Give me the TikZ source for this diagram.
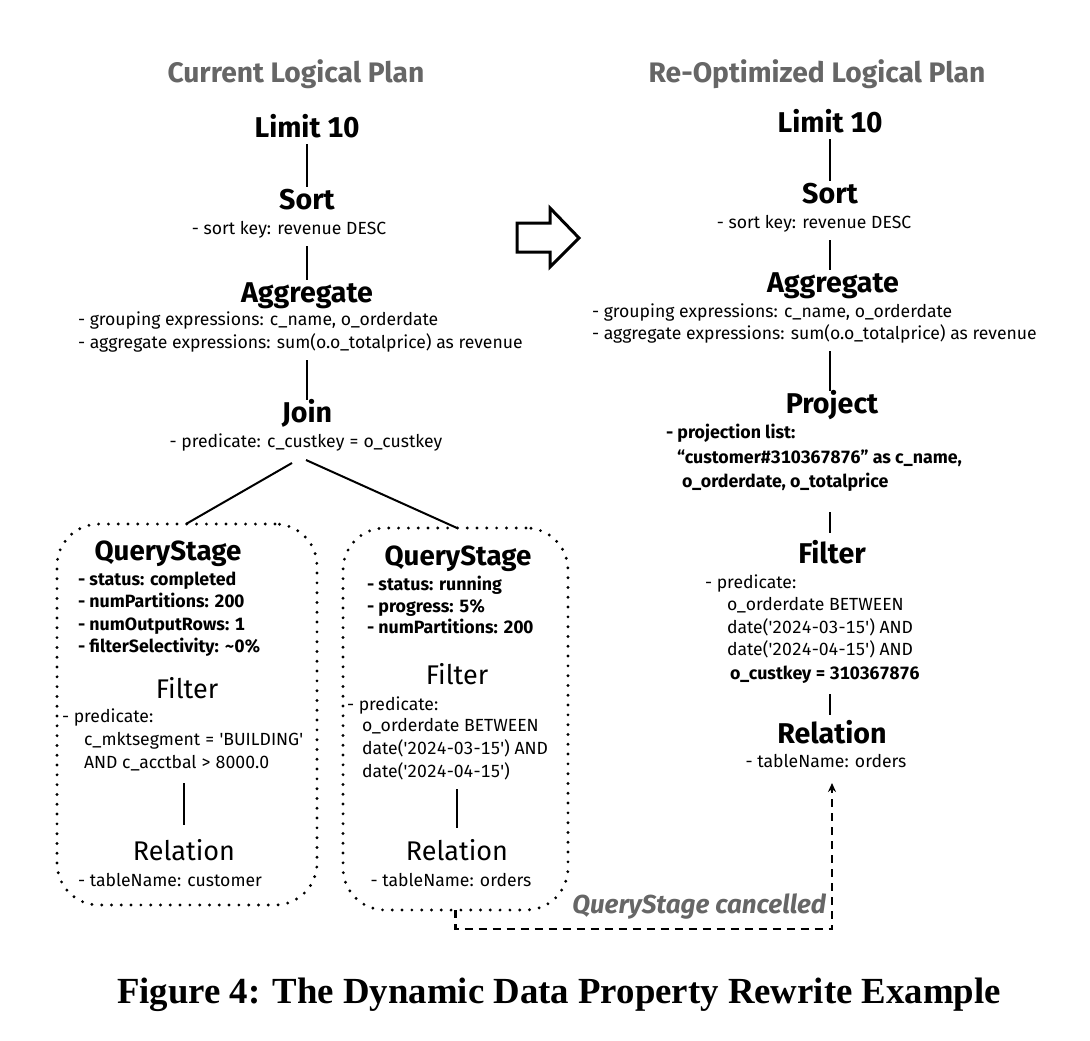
\documentclass[tikz,border=0pt]{standalone}
\usepackage{fontspec}
\setmainfont{Fira Sans}[Numbers=Monospaced]
\newfontfamily\capfont{Liberation Serif}
\usetikzlibrary{arrows.meta,calc}
\definecolor{titlegray}{HTML}{666666}
\tikzset{
  every node/.style={inner sep=0pt, outer sep=0pt},
  ttl/.style={anchor=base, font=\fontsize{28.2}{30}\selectfont\bfseries, text=titlegray},
  op/.style={anchor=base, font=\fontsize{28.6}{30}\selectfont\bfseries, text height=22.5pt, text depth=7pt},
  qs/.style={anchor=base, font=\fontsize{27.7}{30}\selectfont\bfseries},
  lop/.style={anchor=base, font=\fontsize{27}{30}\selectfont, text height=21pt, text depth=6pt},
  desc/.style={anchor=base west, font=\fontsize{17.6}{20}\selectfont, text height=14pt, text depth=12pt},
  descc/.style={desc, anchor=base},
  bdesc/.style={desc, font=\fontsize{17.8}{20}\selectfont\bfseries},
  link/.style={line width=2pt},
  dotbox/.style={draw, line width=3.2pt, dash pattern=on 0pt off 9.8pt, line cap=round, rounded corners=42pt},
  cancel/.style={line width=2.2pt, dash pattern=on 8pt off 6pt, -{Stealth[length=9pt,width=8pt]}},
  blockarrow/.style={line width=3pt, line join=miter},
}
\begin{document}
\begin{tikzpicture}[x=1pt, y=-1pt]
\useasboundingbox[fill=white] (0,0) rectangle (1090,1041);

% titles
\node[ttl] (tleft) at (296,82) {Current Logical Plan};
\node[ttl] (tright) at (817,82) {Re-Optimized Logical Plan};

% ---------- left tree ----------
\node[op] (lim) at (307,137) {Limit 10};
\node[op] (sort) at (307,209) {Sort};
\node[descc] (sortd) at (289,234) {- sort key: revenue DESC};
\node[op] (agg) at (307,302) {Aggregate};
\node[desc] (aggd1) at (78,325) {- grouping expressions: c\_name, o\_orderdate};
\node[desc] (aggd2) at (78,348) {- aggregate expressions: sum(o.o\_totalprice) as revenue};
\node[op] (join) at (307,422) {Join};
\node[descc] (joind) at (306,447) {- predicate: c\_custkey = o\_custkey};

\draw[link] (lim.south) -- (sort.north);
\draw[link] (sortd.south -| agg) -- (agg.north);
\draw[link] (aggd2.south -| agg) -- (join.north);

% query stage boxes
\node[dotbox, minimum width=260pt, minimum height=381pt] (lbox) at (187,714.5) {};
\node[dotbox, minimum width=225pt, minimum height=382pt] (rbox) at (455.5,719) {};

\draw[link] ($(joind.south)+(-14,4)$) -- ([xshift=-1pt]lbox.north);
\draw[link] ($(joind.south)+(0,1)$) -- ([xshift=1.5pt]rbox.north);

% left box content
\node[qs] (lqs) at (168,560) {QueryStage};
\node[bdesc] (lq1) at (78,585) {- status: completed};
\node[bdesc] (lq2) at (78,607) {- numPartitions: 200};
\node[bdesc] (lq3) at (78,630) {- numOutputRows: 1};
\node[bdesc] (lq4) at (78,652) {- filterSelectivity: \textasciitilde 0\%};
\node[lop] (lfil) at (187,698) {Filter};
\node[desc] (lfp) at (62,722) {- predicate:};
\node[desc] (lfp1) at (84,745) {c\_mktsegment = \textquotesingle BUILDING\textquotesingle};
\node[desc] (lfp2) at (84,768) {AND c\_acctbal > 8000.0};
\node[lop] (lrel) at (184,860) {Relation};
\node[descc] (lreld) at (170,886) {- tableName: customer};
\draw[link, shorten <=3pt, shorten >=14pt] (lfp2.south -| lrel) -- (lrel.north);

% right box content
\node[qs] (rqs) at (458,565) {QueryStage};
\node[bdesc] (rq1) at (367,590) {- status: running};
\node[bdesc] (rq2) at (367,612) {- progress: 5\%};
\node[bdesc] (rq3) at (367,633) {- numPartitions: 200};
\node[lop] (rfil) at (457,684) {Filter};
\node[desc] (rfp) at (347,710) {- predicate:};
\node[desc] (rfp1) at (362,731) {o\_orderdate BETWEEN};
\node[desc] (rfp2) at (362,754) {date(\textquotesingle 2024-03-15\textquotesingle) AND};
\node[desc] (rfp3) at (362,777) {date(\textquotesingle 2024-04-15\textquotesingle)};
\node[lop] (rrel) at (457,860) {Relation};
\node[descc] (rreld) at (451,886) {- tableName: orders};
\draw[link, shorten >=11pt] (rfp3.south -| rrel) -- (rrel.north);

% ---------- block arrow ----------
\draw[blockarrow] (517,223) -- (550,223) -- (550,208) -- (579,238) -- (550,267) -- (550,252) -- (517,252) -- cycle;

% ---------- right tree ----------
\node[op] (rlim) at (830,132) {Limit 10};
\node[op] (rsort) at (830,203) {Sort};
\node[descc] (rsortd) at (814,228) {- sort key: revenue DESC};
\node[op] (ragg) at (833,292) {Aggregate};
\node[desc] (raggd1) at (592,317) {- grouping expressions: c\_name, o\_orderdate};
\node[desc] (raggd2) at (592,339) {- aggregate expressions: sum(o.o\_totalprice) as revenue};
\node[op] (rproj) at (832,413) {Project};
\node[bdesc] (rpd1) at (666,438) {- projection list:};
\node[bdesc] (rpd2) at (677,463) {“customer\#310367876” as c\_name,};
\node[bdesc] (rpd3) at (682,487) {o\_orderdate, o\_totalprice};
\node[op] (rfilt) at (832,563) {Filter};
\node[desc] (rfd0) at (705,588) {- predicate:};
\node[desc] (rfd1) at (727,610) {o\_orderdate BETWEEN};
\node[desc] (rfd2) at (727,633) {date(\textquotesingle 2024-03-15\textquotesingle) AND};
\node[desc] (rfd3) at (727,655) {date(\textquotesingle 2024-04-15\textquotesingle) AND};
\node[bdesc] (rfd4) at (730,679) {o\_custkey = 310367876};
\node[op] (rrelr) at (832,743) {Relation};
\node[descc] (rreldr) at (826,767) {- tableName: orders};

\draw[link] (rlim.south) -- (rsort.north);
\draw[link] (rsortd.south -| rsort) -- (ragg.north -| rsort);
\draw[link] (raggd2.south -| rsort) -- (rproj.north -| rsort);
\draw[link, shorten <=13pt, shorten >=7.5pt] (rpd3.south -| rsort) -- (rfilt.north -| rsort);
\draw[link, shorten <=3pt, shorten >=5.5pt] (rfd4.south -| rsort) -- (rrelr.north -| rsort);

% ---------- cancelled connector ----------
\coordinate (cc) at (832,929);
\draw[cancel, shorten >=4pt] (rbox.south) |- (cc) -- (cc |- rreldr.south);
\node[anchor=base east, font=\fontsize{26}{28}\selectfont\bfseries\itshape, text=titlegray] (cancl) at (826,913) {QueryStage cancelled};

% ---------- caption ----------
\node[anchor=base, font=\capfont\bfseries\fontsize{36.8}{40}\selectfont] (cap) at (559,1003) {Figure 4: The Dynamic Data Property Rewrite Example};
\end{tikzpicture}
\end{document}
